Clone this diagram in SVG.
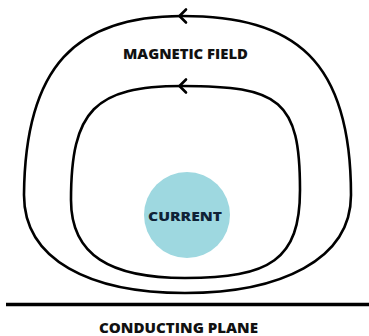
<svg xmlns="http://www.w3.org/2000/svg" width="369" height="336" viewBox="0 0 369 336">
  <style>
    .loop { fill: none; stroke: #000; stroke-width: 2.6; stroke-linejoin: round; }
    .arrow { fill: none; stroke: #000; stroke-width: 2.6; stroke-linecap: round; stroke-linejoin: round; }
    .lbl { font-family: "Open Sans", "Liberation Sans", sans-serif; font-weight: 800; font-size: 14px; fill: #111; text-anchor: middle; }
  </style>
  <rect width="369" height="336" fill="#fff"/>
  <g id="current">
    <circle cx="187" cy="215" r="43" fill="#9ed8e0"/>
    <text class="lbl" x="185" y="221" style="font-size:12.8px; fill:#0f2236" textLength="74" lengthAdjust="spacingAndGlyphs">CURRENT</text>
  </g>
  <g id="connectors">
    <path id="outer-loop" class="loop" d="M182,16 C76,16 25,66 24,195 C24,260 90,293 185,293 C280,293 351,260 351,195 C351,60 295,16 182,16 Z"/>
    <path id="inner-loop" class="loop" d="M182,86 C95,86 71,110 71,200 C71,255 110,278 185,278 C270,278 300,260 300,190 C300,100 280,86 182,86 Z"/>
    <path class="arrow" d="M186,9.5 L179.5,16 L186,22.5"/>
    <path class="arrow" d="M186,79.5 L179.5,86 L186,92.5"/>
  </g>
  <g id="magnetic-field">
    <text class="lbl" x="185.5" y="59" textLength="125" lengthAdjust="spacingAndGlyphs">MAGNETIC FIELD</text>
  </g>
  <g id="conducting-plane">
    <line x1="6" y1="304.5" x2="369" y2="304.5" stroke="#000" stroke-width="3.5"/>
    <text class="lbl" x="178.5" y="333" textLength="159" lengthAdjust="spacingAndGlyphs">CONDUCTING PLANE</text>
  </g>
</svg>
